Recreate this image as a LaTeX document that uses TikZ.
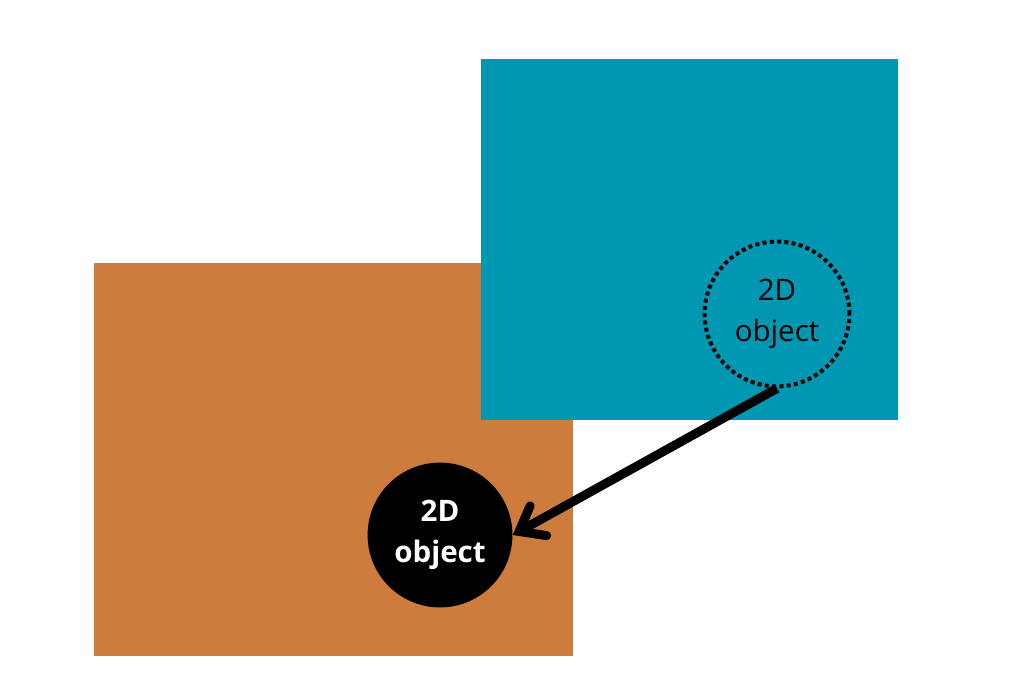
\documentclass[tikz,border=0pt]{standalone}
\usepackage{fontspec}
\setmainfont{Open Sans}
\usetikzlibrary{arrows.meta}
\definecolor{tealbox}{HTML}{0097B2}
\definecolor{orangebox}{HTML}{CD7C3E}
\tikzset{
	objcircle/.style={circle, minimum size=3.62cm, inner sep=0pt, align=center,
		font=\fontsize{21}{29}\selectfont},
	dotline/.style={line width=2.85pt, dash pattern=on 2.85pt off 2.35pt},
}
\begin{document}
\begin{tikzpicture}[x=0.025cm,y=-0.025cm]
	\useasboundingbox (0,0) rectangle (1026,696);

	% the two planes
	\fill[orangebox] (94,263) rectangle (573,656);
	\fill[tealbox] (481,59) rectangle (898,420);

	% objects
	\node[objcircle, draw, dotline] (src) at (777,314) {2D\\object};
	\node[objcircle, fill=black, text=white, font=\fontsize{21}{29}\selectfont\bfseries] (dst) at (440,535) {2D\\object};

	\draw[line width=0.225cm, -{Straight Barb[length=0.55cm, width=0.85cm, line cap=round]}] (src.south) -- (dst.east);
\end{tikzpicture}
\end{document}
